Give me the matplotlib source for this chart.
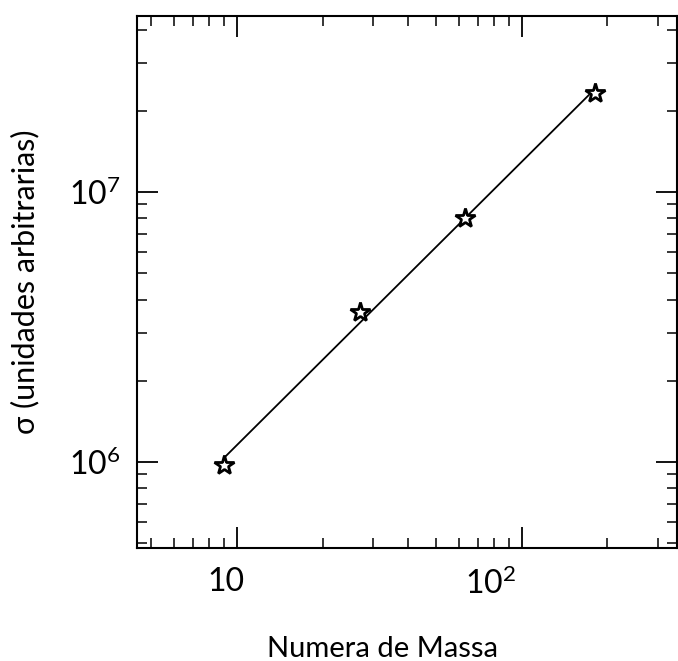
import numpy as np
import matplotlib
matplotlib.use("Agg")
import matplotlib.pyplot as plt
from matplotlib.ticker import FixedLocator, FixedFormatter, LogLocator, NullFormatter
from matplotlib.transforms import ScaledTranslation

# Data
mass_number = [9, 27, 63, 181]
sigma = [9.75e5, 3.6e6, 8.0e6, 2.33e7]

x_major = [10, 100]
x_major_labels = ["10", "$10^{2}$"]
y_major = [1e6, 1e7]
y_major_labels = ["$10^{6}$", "$10^{7}$"]

plt.rcParams['font.family'] = ['Lato', 'DejaVu Sans']
plt.rcParams['mathtext.default'] = 'regular'
plt.rcParams['mathtext.fontset'] = 'custom'
plt.rcParams['mathtext.rm'] = 'Lato'

fig = plt.figure(figsize=(6.78, 6.61), dpi=100)
ax = fig.add_axes([0.202, 0.171, 0.797, 0.805])

lx = np.log10(mass_number)
ly = np.log10(sigma)
slope, intercept = np.polyfit(lx, ly, 1)
xf = np.array([mass_number[0], mass_number[-1]])
yf = 10 ** (intercept + slope * np.log10(xf))
ax.plot(xf, yf, color='black', lw=1.3, zorder=2)
ax.plot(mass_number, sigma, linestyle='none', marker='*', markersize=15,
        markerfacecolor='white', markeredgecolor='black', markeredgewidth=2.0, zorder=3)

ax.set_xscale('log')
ax.set_yscale('log')
ax.set_xlim(4.45, 352)
ax.set_ylim(4.8e5, 4.5e7)

ax.xaxis.set_major_locator(FixedLocator(x_major))
ax.xaxis.set_major_formatter(FixedFormatter(x_major_labels))
ax.xaxis.set_minor_locator(LogLocator(base=10, subs=np.arange(2, 10), numticks=20))
ax.xaxis.set_minor_formatter(NullFormatter())
ax.yaxis.set_major_locator(FixedLocator(y_major))
ax.yaxis.set_major_formatter(FixedFormatter(y_major_labels))
ax.yaxis.set_minor_locator(LogLocator(base=10, subs=np.arange(2, 10), numticks=20))
ax.yaxis.set_minor_formatter(NullFormatter())

ax.tick_params(which='both', direction='in', top=True, right=True, color='black')
ax.tick_params(which='major', length=15, width=1.3, labelsize=23, pad=14)
ax.tick_params(which='minor', length=7, width=1.1)
ax.tick_params(axis='y', which='major', pad=12)
for s in ax.spines.values():
    s.set_linewidth(1.5)

fig.canvas.draw()
offsets = [-11, -31]
for lab, off in zip(ax.get_xticklabels(), offsets):
    lab.set_transform(lab.get_transform() + ScaledTranslation(off / 100, 0, fig.dpi_scale_trans))

ax.set_xlabel("Numera de Massa", fontsize=21)
ax.xaxis.set_label_coords(0.455, -0.165)
ax.set_ylabel("σ (unidades arbitrarias)", fontsize=22)
ax.yaxis.set_label_coords(-0.18, 0.5)

fig.savefig("out.png", dpi=100)
